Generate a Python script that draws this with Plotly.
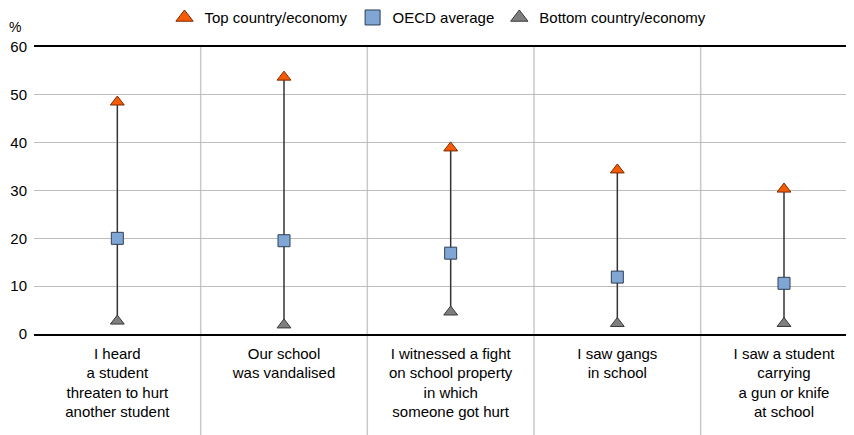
import plotly.graph_objects as go

categories = [
    "I heard<br>a student<br>threaten to hurt<br>another student",
    "Our school<br>was vandalised",
    "I witnessed a fight<br>on school property<br>in which<br>someone got hurt",
    "I saw gangs<br>in school",
    "I saw a student<br>carrying<br>a gun or knife<br>at school",
]
top_values = [48.5, 53.7, 38.9, 34.3, 30.3]
oecd_values = [20.0, 19.5, 16.9, 11.9, 10.6]
bottom_values = [2.7, 1.9, 4.6, 2.2, 2.2]
y_ticks = [0, 10, 20, 30, 40, 50, 60]

series_names = ["Top country/economy", "OECD average", "Bottom country/economy"]
series_symbols = ["triangle-up", "square", "triangle-up"]
series_colors = ["#F75A05", "#7FA6D4", "#7F7F7F"]
series_edges = ["#7a2a00", "#2f3f55", "#3a3a3a"]

xs = list(range(len(categories)))
FONT = "Liberation Sans, Arial, sans-serif"

fig = go.Figure()

# connecting lines
lx, ly = [], []
for i in xs:
    lx += [i, i, None]
    ly += [bottom_values[i], top_values[i], None]
fig.add_trace(go.Scatter(x=lx, y=ly, mode="lines", line=dict(color="#333333", width=1.5),
                         showlegend=False, hoverinfo="skip"))

for vals, name, sym, col, edge in zip([top_values, oecd_values, bottom_values],
                                      series_names, series_symbols, series_colors, series_edges):
    fig.add_trace(go.Scatter(x=xs, y=vals, mode="markers", name=name, showlegend=False,
                             marker=dict(symbol=sym, size=12, color=col,
                                         line=dict(color=edge, width=1))))
# legend entries with larger symbols
for name, sym, col, edge in zip(series_names, series_symbols, series_colors, series_edges):
    fig.add_trace(go.Scatter(x=[None], y=[None], mode="markers", name=name,
                             marker=dict(symbol=sym, size=15, color=col,
                                         line=dict(color=edge, width=1))))

# vertical separators between categories
for i in range(len(categories) - 1):
    fig.add_shape(type="line", xref="x", yref="paper", x0=i + 0.5, x1=i + 0.5,
                  y0=-0.36, y1=1, line=dict(color="#C8C8C8", width=1.5), layer="below")

fig.add_annotation(text="%", xref="paper", yref="paper", x=-0.023, y=1.07,
                   showarrow=False, font=dict(size=14, color="#000", family=FONT),
                   xanchor="center", yanchor="middle")

# page body has an 8px default margin, so the figure is sized to fit 854x435 window
fig.update_layout(
    width=846, height=427,
    margin=dict(l=26, r=0, t=39, b=101, autoexpand=False),
    plot_bgcolor="white", paper_bgcolor="white",
    font=dict(family=FONT, size=15, color="#000"),
    legend=dict(orientation="h", x=0.4927, xanchor="center", y=1.102, yanchor="middle",
                font=dict(size=15), itemwidth=30, tracegroupgap=0),
    xaxis=dict(range=[-0.5, 4.42], tickmode="array", tickvals=xs, ticktext=categories,
               showgrid=False, zeroline=False, showline=True, mirror=True, automargin=False,
               linecolor="#000", linewidth=1.5, ticks="", tickfont=dict(size=15),
               ticklabelstandoff=5),
    yaxis=dict(range=[0, 60], tickmode="array", tickvals=y_ticks, showgrid=True, automargin=False,
               gridcolor="#BDBDBD", gridwidth=1, zeroline=False, showline=False,
               ticks="", tickfont=dict(size=15), ticklabelstandoff=6),
)

fig.write_html("out.html")
